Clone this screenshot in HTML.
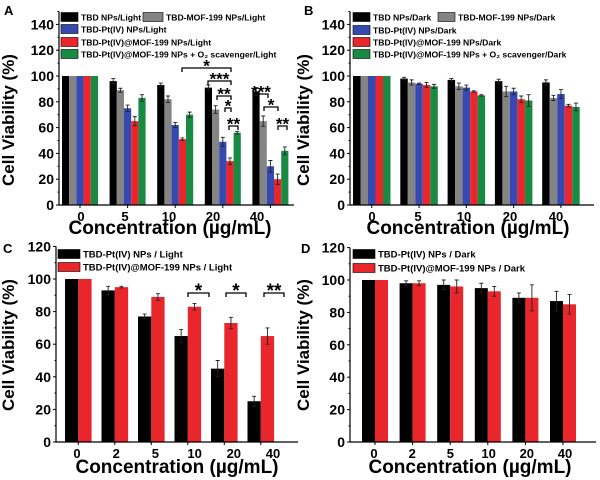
<!DOCTYPE html>
<html><head><meta charset="utf-8"><style>
html,body{margin:0;padding:0;background:#fff;}
svg{display:block;font-family:"Liberation Sans",Arial,sans-serif;font-weight:bold;}
</style></head><body>
<svg id="fig" width="600" height="480" viewBox="0 0 600 480"></svg>
<script>
const catsAB=['0','5','10','20','40'];
const catsCD=['0','2','5','10','20','40'];
const aBlack=[100,96,93,91,88];
const aGray=[100,89,82,74,65];
const aBlue=[100,75,62,49,30];
const aRed=[100,65,51,34,20];
const aGreen=[100,83,70,56,42];
const aBlackErr=[0,2,1.5,2,3];
const aGrayErr=[0,1.5,2.5,3,4];
const aBlueErr=[0,2.5,2,3.5,4.5];
const aRedErr=[0,3.5,1,2.5,4];
const aGreenErr=[0,2.5,2,1,3];
const bBlack=[100,98,97,96,95];
const bGray=[100,95,92,88,83];
const bBlue=[100,94,91,88,86];
const bRed=[100,93,88,82,77];
const bGreen=[100,92,85,81,76];
const bBlackErr=[0,1,1,1.5,2];
const bGrayErr=[0,2,2.5,4,2];
const bBlueErr=[0,0.5,2,2.5,3.5];
const bRedErr=[0,2,0.5,2.5,1];
const bGreenErr=[0,1.5,0.5,4.5,3];
const cBlack=[100,93,77,65,45,25];
const cRed=[100,95,89,83,73,65];
const cBlackErr=[0,2.5,1.5,4,5,3];
const cRedErr=[0,0.5,2,2,3.5,5];
const dBlack=[100,98,97,95,89,87];
const dRed=[100,98,96,93,89,85];
const dBlackErr=[0,1.5,3,3,3,6];
const dRedErr=[0,1.5,4,3,8,6];
const yTicksAB=[0,20,40,60,80,100,120,140];
const yTicksCD=[0,20,40,60,80,100,120];

const C={black:'#000',gray:'#848484',blue:'#3549b0',red:'#e8262b',green:'#188a42'};
const svg=document.getElementById('fig');
const NS='http://www.w3.org/2000/svg';
function mk(tag,attrs,parent){const e=document.createElementNS(NS,tag);for(const k in attrs)e.setAttribute(k,attrs[k]);(parent||svg).appendChild(e);return e;}
function txt(x,y,s,size,anchor,parent,extra){const t=mk('text',Object.assign({x:x,y:y,'font-size':size,'text-anchor':anchor||'start'},extra||{}),parent);t.textContent=s;return t;}

function panel(p){
  const g=mk('g',{});
  
  
  const y=v=>p.y0-v*p.k;
  p.series.forEach((s,si)=>{
    s.vals.forEach((v,i)=>{
      const x=p.gs+i*p.gstep+si*p.bw;
      const r=mk('rect',{x:x,y:y(v),width:p.bw,height:p.y0-y(v),fill:s.color},g);
      
      
      const e=s.err[i];
      if(e>0){
        const cx=x+p.bw/2;
        const eb=mk('path',{d:`M${cx} ${y(v)} V${y(v+e)} M${cx-2} ${y(v+e)} H${cx+2} M${cx} ${y(v)} V${y(v-e)} M${cx-2} ${y(v-e)} H${cx+2}`,stroke:'#222','stroke-width':0.9,fill:'none'},g);
        
        
      }
    });
  });
  const ytop=y(p.ymax);
  const ax=mk('path',{d:`M${p.ax} ${ytop} V${p.y0} H${p.axR}`,stroke:'#000','stroke-width':1.2,fill:'none'},g);
  
  
  p.yt.forEach(v=>{
    mk('line',{x1:p.ax-3,x2:p.ax,y1:y(v),y2:y(v),stroke:'#000','stroke-width':1},g);
    if(v+10<=p.ymax) mk('line',{x1:p.ax-1.5,x2:p.ax,y1:y(v+10),y2:y(v+10),stroke:'#000','stroke-width':1},g);
    const t=txt(p.ax-5,y(v)+5,String(v),14,'end',g);
    
    
  });
  p.cats.forEach((c,i)=>{
    const cx=p.gs+i*p.gstep+p.series.length*p.bw/2;
    mk('line',{x1:cx,x2:cx,y1:p.y0,y2:p.y0+3,stroke:'#000','stroke-width':1},g);
    const t=txt(p.lx+i*p.lstep,p.y0+16,c,13,'middle',g);
    
    
  });
  const yt=txt(0,0,'Cell Viability (%)',17,'middle',g,{transform:`translate(${p.ytx},${p.yty}) rotate(-90)`});
  
  
  const xt=txt(p.xtx,p.xty,'Concentration (\u00b5g/mL)',19,'middle',g);
  
  
  const lt=txt(p.lab[0],p.lab[1],p.letter,13,'start',g);
  
  
  p.legend.forEach(L=>{
    const lg=mk('g',{},g);
    
    
    mk('rect',{x:L[0],y:L[1]-4.5,width:L[2],height:9,fill:L[3],stroke:'#000','stroke-width':0.6},lg);
    txt(L[0]+L[2]+3,L[1]+3.3,L[4],p.lfs,'start',lg);
  });
  return {g,y};
}

function bracket(g,x1,x2,yy,stars,fs){
  fs=fs||17;
  const b=mk('path',{d:`M${x1} ${yy+4} V${yy} H${x2} V${yy+4}`,stroke:'#000','stroke-width':1.3,fill:'none'},g);
  
  
  const t=txt((x1+x2)/2,yy+fs*0.2,stars,fs,'middle',g);
  
  
}

const A=panel({name:'panel-a',letter:'A',lab:[4,15],cats:catsAB,y0:205,k:1.29,ymax:150,yt:yTicksAB,ax:59,axR:294,
  gs:62,gstep:47.6,bw:7.2,lx:81,lstep:44,ytx:14,yty:120,xtx:170,xty:234,lfs:8.6,
  series:[{key:'tbd-light',vals:aBlack,err:aBlackErr,color:C.black},{key:'tbd-mof-light',vals:aGray,err:aGrayErr,color:C.gray},
    {key:'tbd-pt-light',vals:aBlue,err:aBlueErr,color:C.blue},{key:'tbd-pt-mof-light',vals:aRed,err:aRedErr,color:C.red},
    {key:'tbd-pt-mof-scav-light',vals:aGreen,err:aGreenErr,color:C.green}],
  legend:[[61,17,17,C.black,'TBD NPs/Light'],[143,17,20,C.gray,'TBD-MOF-199 NPs/Light'],[61,29,17,C.blue,'TBD-Pt(IV) NPs/Light'],
    [61,42,17,C.red,'TBD-Pt(IV)@MOF-199 NPs/Light'],[61,54,17,C.green,'TBD-Pt(IV)@MOF-199 NPs + O\u2082 scavenger/Light']]});
bracket(A.g,182,231,68,'*');
bracket(A.g,208,231,81,'***');
bracket(A.g,217,231,96,'**');
bracket(A.g,225,231,108,'*');
bracket(A.g,229,238,126,'**');
bracket(A.g,254,268,94,'***');
bracket(A.g,264,278,107,'*');
bracket(A.g,278,287,126,'**');

panel({name:'panel-b',letter:'B',lab:[304,15],cats:catsAB,y0:205,k:1.29,ymax:150,yt:yTicksAB,ax:350,axR:594,
  gs:353,gstep:47.3,bw:7.5,lx:372,lstep:46,ytx:309,yty:120,xtx:468,xty:234,lfs:8.6,
  series:[{key:'tbd-dark',vals:bBlack,err:bBlackErr,color:C.black},{key:'tbd-mof-dark',vals:bGray,err:bGrayErr,color:C.gray},
    {key:'tbd-pt-dark',vals:bBlue,err:bBlueErr,color:C.blue},{key:'tbd-pt-mof-dark',vals:bRed,err:bRedErr,color:C.red},
    {key:'tbd-pt-mof-scav-dark',vals:bGreen,err:bGreenErr,color:C.green}],
  legend:[[353,17,17,C.black,'TBD NPs/Dark'],[438,17,17,C.gray,'TBD-MOF-199 NPs/Dark'],[353,30,17,C.blue,'TBD-Pt(IV) NPs/Dark'],
    [353,42,17,C.red,'TBD-Pt(IV)@MOF-199 NPs/Dark'],[353,54,17,C.green,'TBD-Pt(IV)@MOF-199 NPs + O\u2082 scavenger/Dark']]});

const Cp=panel({name:'panel-c',letter:'C',lab:[3,253],cats:catsCD,y0:442,k:1.63,ymax:120,yt:yTicksCD,ax:56,axR:298,
  gs:65,gstep:36.5,bw:13.3,lx:77,lstep:39.2,ytx:14,yty:345,xtx:177,xty:473,lfs:9.5,
  series:[{key:'tbd-pt-light',vals:cBlack,err:cBlackErr,color:C.black},{key:'tbd-pt-mof-light',vals:cRed,err:cRedErr,color:C.red}],
  legend:[[58,254,22,C.black,'TBD-Pt(IV) NPs / Light'],[58,267,22,C.red,'TBD-Pt(IV)@MOF-199 NPs / Light']]});
bracket(Cp.g,188,209,293,'*',19);
bracket(Cp.g,226,246,293,'*',19);
bracket(Cp.g,264,284,293,'**',19);

panel({name:'panel-d',letter:'D',lab:[301,253],cats:catsCD,y0:442,k:1.62,ymax:120,yt:yTicksCD,ax:350,axR:596,
  gs:362,gstep:37.6,bw:13,lx:374,lstep:38.2,ytx:309,yty:345,xtx:470,xty:473,lfs:9.5,
  series:[{key:'tbd-pt-dark',vals:dBlack,err:dBlackErr,color:C.black},{key:'tbd-pt-mof-dark',vals:dRed,err:dRedErr,color:C.red}],
  legend:[[353,254,22,C.black,'TBD-Pt(IV) NPs / Dark'],[353,268,22,C.red,'TBD-Pt(IV)@MOF-199 NPs / Dark']]});
</script>
</body></html>
